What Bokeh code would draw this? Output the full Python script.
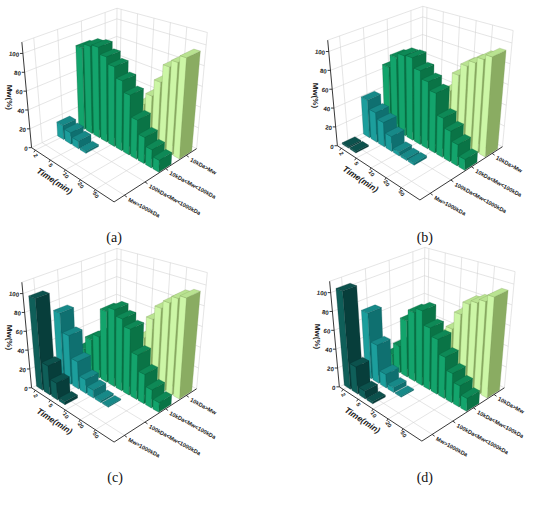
import math
from bokeh.plotting import figure
from bokeh.models import Range1d
from bokeh.embed import file_html
from bokeh.resources import INLINE
from bokeh.core.properties import value

# ---------------- data ----------------
categories = ["Mw>1000kDa", "100kDa<Mw<1000kDa", "10kDa<Mw<100kDa", "10kDa>Mw"]
time_tick_labels = ["2", "5", "10", "20", "50"]
time_tick_index = [0, 2, 4, 6, 8]
n_times = 11
z_ticks = [0, 20, 40, 60, 80, 100]
z_max = 112
panel_labels = ["(a)", "(b)", "(c)", "(d)"]

a_dark = [0, 0, 0, 0, 0, 0, 0, 0, 0, 0, 0]
a_teal = [15, 12, 8, 2, 0, 0, 0, 0, 0, 0, 0]
a_green = [88, 93, 95, 88, 81, 70, 59, 38, 25, 17, 11]
a_light = [0, 0, 2, 14, 24, 35, 47, 64, 82, 89, 96]

b_dark = [1.5, 1.5, 0, 0, 0, 0, 0, 0, 0, 0, 0]
b_teal = [40, 31, 25, 15, 4, 2, 2, 0, 0, 0, 0]
b_green = [65, 79, 84, 85, 75, 67, 59, 38, 29, 20, 10]
b_light = [0, 0, 2, 8, 20, 47, 66, 78, 84, 90, 95]

c_dark = [96, 30, 17, 3, 0, 0, 0, 0, 0, 0, 0]
c_teal = [71, 51, 28, 14, 8, 2, 1, 0, 0, 0, 0]
c_green = [22, 36, 43, 73, 78, 72, 65, 43, 28, 17, 9]
c_light = [0, 2, 5, 10, 20, 42, 64, 78, 86, 93, 96]

d_dark = [103, 28, 8, 2, 0, 0, 0, 0, 0, 0, 0]
d_teal = [70, 40, 14, 5, 1, 0, 0, 0, 0, 0, 0]
d_green = [15, 28, 59, 71, 76, 62, 54, 40, 28, 20, 12]
d_light = [0, 2, 5, 15, 40, 50, 68, 81, 85, 89, 96]

panels = [
    [a_dark, a_teal, a_green, a_light],
    [b_dark, b_teal, b_green, b_light],
    [c_dark, c_teal, c_green, c_light],
    [d_dark, d_teal, d_green, d_light],
]

# colours: (front face, side face, top face, edge)
series_colors = [
    ("#0f5f59", "#073e3b", "#0c524d", "#06302d"),
    ("#1c9e9c", "#0f7070", "#178988", "#0b5a5a"),
    ("#13a46c", "#0a7446", "#0e8956", "#075c38"),
    ("#ccf6a6", "#8aac62", "#b9e391", "#7c9a58"),
]

# ---------------- layout / projection ----------------
W_PAGE, H_PAGE = 550, 505
CORNERS = {
    (0, 0, 0): (32, 152), (1, 0, 0): (117, 208), (1, 1, 0): (202, 153), (0, 1, 0): (119, 110),
    (0, 0, 1): (22, 43), (1, 0, 1): (116, 78), (1, 1, 1): (213, 33), (0, 1, 1): (120, 8),
}
panel_offsets = [(0, 0), (315, -2), (0, 248), (317, 247)]
label_pos = [(117, 245), (437, 245), (118, 493), (437, 493)]

def make_proj(dx, dy):
    def P(u, v, w):
        sx = sy = 0.0
        for (i, j, k), (cx, cy) in CORNERS.items():
            wt = (u if i else 1 - u) * (v if j else 1 - v) * (w if k else 1 - w)
            sx += wt * cx
            sy += wt * cy
        return (sx + dx, H_PAGE - (sy + dy))
    return P

p = figure(width=534, height=489, x_range=Range1d(0, W_PAGE), y_range=Range1d(0, H_PAGE),
           output_backend="svg", toolbar_location=None, min_border=0)
p.axis.visible = False
p.grid.visible = False
p.outline_line_color = None
p.background_fill_color = "white"

BW, BD = 0.8, 0.6
FONT = value("Liberation Sans")

for pi, (series, (ox, oy)) in enumerate(zip(panels, panel_offsets)):
    P = make_proj(ox, oy)
    # ---- grid & frame ----
    gx, gy = [], []
    def seg(a, b, store=(gx, gy)):
        store[0].append([a[0], b[0]]); store[1].append([a[1], b[1]])
    for t in time_tick_index:
        u = (t + 0.5) / n_times
        seg(P(u, 0, 0), P(u, 1, 0))
        seg(P(u, 1, 0), P(u, 1, 1))
    for r in range(4):
        v = (r + 0.5) / 4
        seg(P(0, v, 0), P(1, v, 0))
        seg(P(0, v, 0), P(0, v, 1))
    for zt in z_ticks[1:]:
        w = zt / z_max
        seg(P(0, 0, w), P(0, 1, w))
        seg(P(0, 1, w), P(1, 1, w))
    for a, b in [((0, 0, 1), (0, 1, 1)), ((0, 1, 1), (1, 1, 1)), ((0, 1, 0), (0, 1, 1)),
                 ((1, 1, 0), (1, 1, 1)), ((0, 0, 0), (0, 1, 0)), ((0, 1, 0), (1, 1, 0))]:
        seg(P(*a), P(*b))
    p.multi_line(gx, gy, line_color="#d4d4d4", line_width=0.6)

    # ---- bars (painter's order) ----
    bars = []
    for r, vals in enumerate(series):
        for i, val in enumerate(vals):
            if val > 0:
                depth = (r + 0.5) / 4 - (i + 0.5) / n_times
                bars.append((depth, i, r, val))
    bars.sort(key=lambda b: -b[0])
    xs, ys, fc, lc = [], [], [], []
    for _, i, r, val in bars:
        x0 = (i + 0.5 - BW / 2) / n_times; x1 = (i + 0.5 + BW / 2) / n_times
        y0 = (r + 0.5 - BD / 2) / 4; y1 = (r + 0.5 + BD / 2) / 4
        z = val / z_max
        front = [P(x0, y0, 0), P(x1, y0, 0), P(x1, y0, z), P(x0, y0, z)]
        side = [P(x1, y0, 0), P(x1, y1, 0), P(x1, y1, z), P(x1, y0, z)]
        top = [P(x0, y0, z), P(x1, y0, z), P(x1, y1, z), P(x0, y1, z)]
        cf, cs, ct, ce = series_colors[r]
        for face, col in ((side, cs), (front, cf), (top, ct)):
            xs.append([q[0] for q in face]); ys.append([q[1] for q in face])
            fc.append(col); lc.append(ce)
    p.patches(xs, ys, fill_color=fc, line_color=lc, line_width=0.4, line_alpha=0.7)

    # ---- axes ----
    ax, ay = [], []
    def aseg(a, b):
        ax.append([a[0], b[0]]); ay.append([a[1], b[1]])
    aseg(P(0, 0, 0), P(0, 0, 1))
    aseg(P(0, 0, 0), P(1, 0, 0))
    aseg(P(1, 0, 0), P(1, 1, 0))
    zx, zy, zt_txt = [], [], []
    for zt in z_ticks:
        q = P(0, 0, zt / z_max)
        aseg(q, (q[0] - 3, q[1]))
        zx.append(q[0] - 4); zy.append(q[1] - 1.5); zt_txt.append(str(zt))
    tx, ty = [], []
    for t in time_tick_index:
        q = P((t + 0.5) / n_times, 0, 0)
        aseg(q, (q[0] - 1.5, q[1] - 2.2))
        tx.append(q[0] + 0.5); ty.append(q[1] - 5.5)
    cx, cy = [], []
    for r in range(4):
        q = P(1, (r + 0.5) / 4, 0)
        aseg(q, (q[0] + 2.5, q[1] - 1.8))
        cx.append(q[0] + 4.5); cy.append(q[1] - 4)
    p.multi_line(ax, ay, line_color="#222222", line_width=0.9)

    p.text(zx, zy, text=zt_txt, text_align="right", text_baseline="middle",
           text_font=FONT, text_font_style="bold", text_font_size="6px", angle=-0.15,
           text_color="#222222")
    p.text(tx, ty, text=time_tick_labels, text_align="center", text_baseline="middle",
           text_font=FONT, text_font_style="bold", text_font_size="5.6px", angle=-1.0,
           text_color="#222222")
    p.text(cx, cy, text=categories, text_align="left", text_baseline="middle",
           text_font=FONT, text_font_style="bold", text_font_size="5.6px", angle=-0.5,
           text_color="#222222")
    q = P(0.38, 0, 0)
    p.text([q[0] - 8.5], [q[1] - 13], text=["Time(min)"], text_align="center",
           text_baseline="middle", text_font=FONT, text_font_style="bold italic",
           text_font_size="8.5px", angle=-0.58, text_color="#222222")
    q = P(0, 0, 0)
    p.text([q[0] - 23], [q[1] + 52], text=["Mw(%)"], text_align="center",
           text_baseline="middle", text_font=FONT, text_font_style="bold",
           text_font_size="8px", angle=-math.pi / 2, text_color="#222222")
    lx, ly = label_pos[pi]
    p.text([lx], [H_PAGE - ly], text=[panel_labels[pi]], text_align="center",
           text_baseline="middle", text_font=value("Liberation Serif"),
           text_font_size="14px", text_color="#111111")

open("out.html", "w").write(file_html(p, INLINE))
